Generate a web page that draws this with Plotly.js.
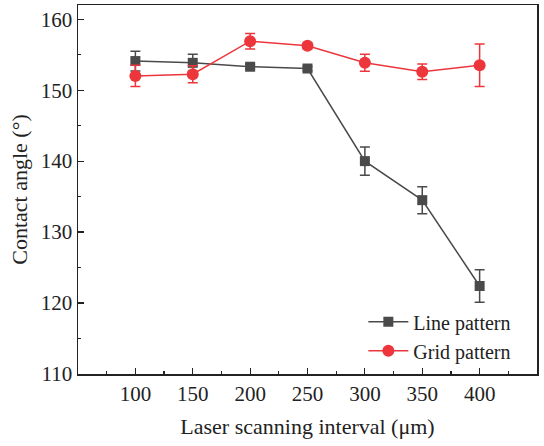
<!DOCTYPE html>
<html>
<head>
<meta charset="utf-8">
<script src="https://cdn.plot.ly/plotly-3.0.1.min.js"></script>
<style>html,body{margin:0;padding:0;background:#fff}#chart{width:544px;height:446px}</style>
</head>
<body>
<div id="chart"></div>
<script>
const intervals = [100, 150, 200, 250, 300, 350, 400];
const lineValues = [154.1, 153.85, 153.3, 153.05, 140.0, 134.5, 122.4];
const lineErrors = [1.4, 1.2, 0.3, 0.3, 2.0, 1.9, 2.3];
const gridValues = [152.0, 152.25, 156.9, 156.25, 153.85, 152.6, 153.5];
const gridErrors = [1.5, 1.2, 1.1, 0.4, 1.2, 1.1, 3.0];
const seriesNames = ["Line pattern", "Grid pattern"];
const xTitle = "Laser scanning interval (μm)";
const yTitle = "Contact angle (°)";

const gray = "#4a4a4a";
const red = "#ec363c";
const font = "Liberation Serif";

const traces = [
  {
    x: intervals, y: lineValues, name: seriesNames[0], type: "scatter", mode: "lines+markers",
    line: {color: gray, width: 1.5},
    marker: {symbol: "square", size: 10, color: gray},
    error_y: {type: "data", array: lineErrors, visible: true, color: gray, thickness: 1.5, width: 5}
  },
  {
    x: intervals, y: gridValues, name: seriesNames[1], type: "scatter", mode: "lines+markers",
    line: {color: red, width: 1.5},
    marker: {symbol: "circle", size: 12, color: red},
    error_y: {type: "data", array: gridErrors, visible: true, color: red, thickness: 1.5, width: 5}
  }
];

const layout = {
  width: 544, height: 446,
  margin: {l: 78, r: 7, t: 5, b: 72},
  paper_bgcolor: "#fff", plot_bgcolor: "#fff",
  font: {family: font, size: 20, color: "#222"},
  showlegend: true,
  legend: {x: 0.955, xanchor: "right", y: 0.01, yanchor: "bottom", bgcolor: "rgba(0,0,0,0)",
           font: {family: font, size: 20, color: "#222"}, tracegroupgap: 0, itemwidth: 40},
  xaxis: {
    range: [50, 450], tickvals: intervals, ticks: "inside", ticklen: 6, tickwidth: 1.2, tickcolor: "#222",
    minor: {dtick: 25, tick0: 25, ticks: "inside", ticklen: 3, tickcolor: "#222"},
    showline: true, linecolor: "#222", linewidth: 1.5, mirror: true, showgrid: false, zeroline: false,
    tickfont: {family: font, size: 21, color: "#222"},
    title: {text: xTitle, font: {family: font, size: 22, color: "#222"}, standoff: 14}
  },
  yaxis: {
    range: [110, 162], tickvals: [110, 120, 130, 140, 150, 160], ticks: "inside", ticklen: 6, tickwidth: 1.2, tickcolor: "#222",
    minor: {dtick: 5, tick0: 0, ticks: "inside", ticklen: 3, tickcolor: "#222"},
    showline: true, linecolor: "#222", linewidth: 1.5, mirror: true, showgrid: false, zeroline: false,
    tickfont: {family: font, size: 21, color: "#222"},
    title: {text: yTitle, font: {family: font, size: 22, color: "#222"}, standoff: 7}
  }
};

Plotly.newPlot("chart", traces, layout, {displayModeBar: false, staticPlot: true});
</script>
</body>
</html>
